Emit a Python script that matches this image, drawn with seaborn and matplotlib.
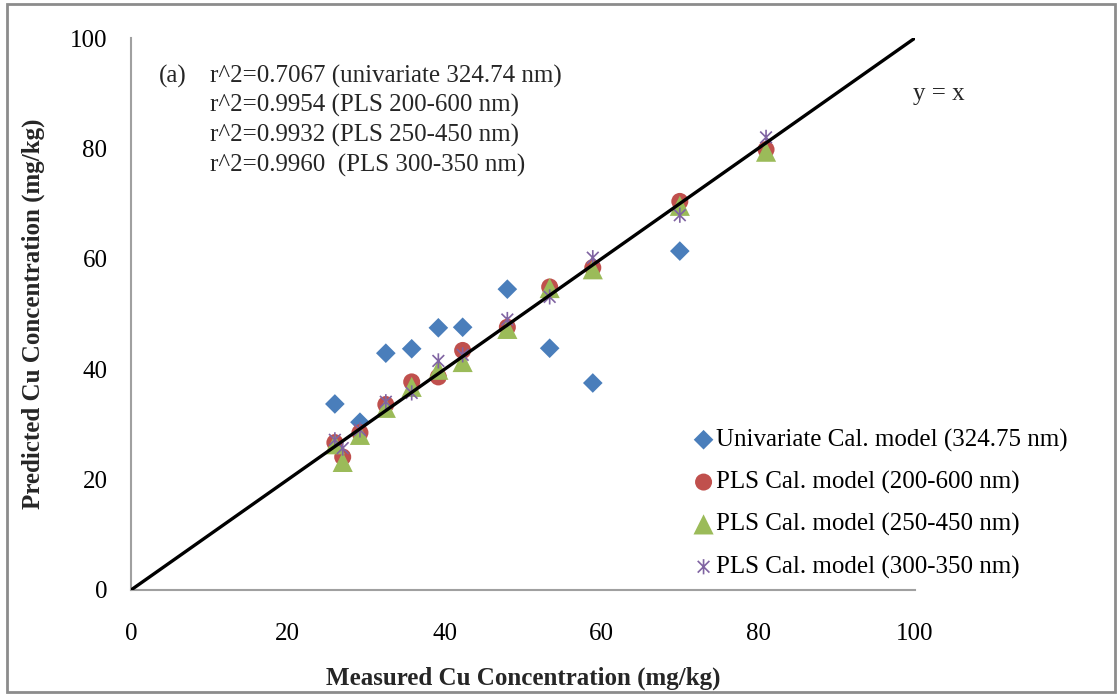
import numpy as np
import pandas as pd
import matplotlib
matplotlib.use("Agg")
import matplotlib.pyplot as plt
from matplotlib.path import Path
from matplotlib.patches import Rectangle
import seaborn as sns

# Measured vs predicted Cu concentration (mg/kg)
measured_uni = [26.0, 29.2, 32.5, 35.8, 39.2, 42.3, 48.0, 53.4, 58.9, 70.0]
pred_uni = [33.7, 30.4, 42.9, 43.7, 47.5, 47.6, 54.5, 43.8, 37.5, 61.4]

measured_pls = [26.0, 27.0, 29.2, 32.5, 35.8, 39.2, 42.3, 48.0, 53.4, 58.9, 70.0, 81.0]
pred_200_600 = [26.7, 24.1, 28.5, 33.6, 37.7, 38.6, 43.4, 47.6, 54.9, 58.4, 70.4, 79.8]
pred_250_450 = [26.4, 23.2, 28.1, 33.0, 36.8, 39.9, 41.3, 47.3, 54.7, 58.1, 69.6, 79.4]
pred_300_350 = [27.2, 25.7, 29.0, 34.1, 35.7, 41.5, 42.6, 49.0, 53.1, 60.2, 67.9, 82.0]

series_labels = [
    "Univariate Cal. model (324.75 nm)",
    "PLS Cal. model (200-600 nm)",
    "PLS Cal. model (250-450 nm)",
    "PLS Cal. model (300-350 nm)",
]
r2_lines = [
    "r^2=0.7067 (univariate 324.74 nm)",
    "r^2=0.9954 (PLS 200-600 nm)",
    "r^2=0.9932 (PLS 250-450 nm)",
    "r^2=0.9960  (PLS 300-350 nm)",
]
ticks = [0, 20, 40, 60, 80, 100]

sns.set_theme(style="white")
plt.rcParams["font.family"] = ["Liberation Serif", "DejaVu Serif"]
FS = 18

fig = plt.figure(figsize=(11.19, 6.95), dpi=100)
fig.patches.append(Rectangle((0.006, 0.004), 0.990, 0.990, transform=fig.transFigure,
                             fill=False, edgecolor="#8c8c8c", linewidth=2.0))
ax = fig.add_axes([0.1171, 0.1511, 0.7006, 0.7942])

# Excel-style star: an x with a vertical bar
star = Path([(-1, -1), (1, 1), (-1, 1), (1, -1), (0, -1.3), (0, 1.3)],
            [Path.MOVETO, Path.LINETO, Path.MOVETO, Path.LINETO, Path.MOVETO, Path.LINETO])

df_uni = pd.DataFrame({"measured": measured_uni, "predicted": pred_uni})
df_pls = pd.DataFrame({"measured": measured_pls,
                       "p1": pred_200_600, "p2": pred_250_450, "p3": pred_300_350})

sns.scatterplot(data=df_uni, x="measured", y="predicted", ax=ax, marker="D",
                color="#4a7ebb", s=100, edgecolor="none", label=series_labels[0], zorder=3)
sns.scatterplot(data=df_pls, x="measured", y="p1", ax=ax, marker="o",
                color="#c0504d", s=150, edgecolor="none", label=series_labels[1], zorder=3)
sns.scatterplot(data=df_pls, x="measured", y="p2", ax=ax, marker="^",
                color="#9bbb59", s=210, edgecolor="none", label=series_labels[2], zorder=3)
sns.scatterplot(data=df_pls, x="measured", y="p3", ax=ax, marker=star,
                facecolor="none", edgecolor="#8064a2", s=120, linewidth=1.2,
                label=series_labels[3], zorder=3)

# identity line
ax.plot([0, 100], [0, 100], color="black", linewidth=2.4, zorder=4)

ax.set_xlim(0, 100)
ax.set_ylim(0, 100)
ax.set_xticks(ticks)
ax.set_yticks(ticks)
ax.tick_params(axis="both", length=0, labelsize=FS, colors="black")
ax.tick_params(axis="x", pad=24)
ax.tick_params(axis="y", pad=17)
for side in ("top", "right"):
    ax.spines[side].set_visible(False)
for side in ("left", "bottom"):
    ax.spines[side].set_color("#a0a0a0")
    ax.spines[side].set_linewidth(1.5)

ax.set_xlabel("Measured Cu Concentration (mg/kg)", fontsize=FS, fontweight="bold", labelpad=15)
ax.set_ylabel("Predicted Cu Concentration (mg/kg)", fontsize=FS, fontweight="bold", labelpad=18)

ax.text(0.035, 0.931, "(a)", transform=ax.transAxes, fontsize=FS, va="center", ha="left")
for i, line in enumerate(r2_lines):
    ax.text(0.101, 0.931 - i * 0.054, line, transform=ax.transAxes,
            fontsize=FS, va="center", ha="left")
ax.text(0.998, 0.899, "y = x", transform=ax.transAxes, fontsize=FS, va="center", ha="left")

leg = ax.legend(loc="lower left", bbox_to_anchor=(0.70, 0.0), frameon=False,
                fontsize=FS, handletextpad=0.0, handlelength=1.0, labelspacing=0.77,
                borderaxespad=0.05)
for txt in leg.get_texts():
    txt.set_color("black")

fig.savefig("out.png", dpi=100, facecolor="white")
